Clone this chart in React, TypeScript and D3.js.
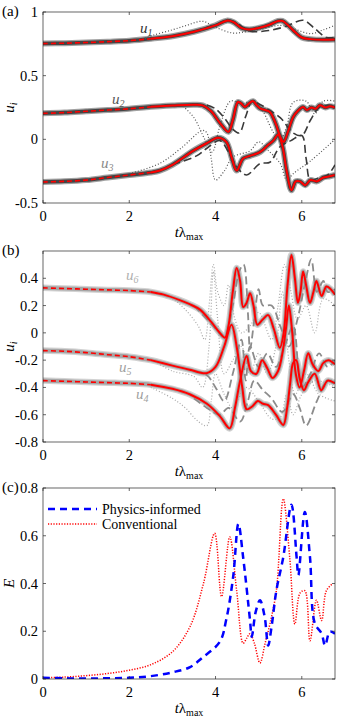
import React from 'react';
import * as d3 from 'd3';

type Pt = [number, number];

// time axis + tick values
const tMax = 6.77;
const xTicks = [0, 2, 4, 6];
const ticksA = [-0.5, 0, 0.5, 1];
const ticksB = [-0.8, -0.6, -0.4, -0.2, 0, 0.2, 0.4];
const ticksC = [0, 0.2, 0.4, 0.6, 0.8];

// panel (a): model (red), conventional (dashed), other (dotted)
const u1Model: Pt[] = [[0,0.752],[0.5,0.755],[1,0.76],[1.5,0.767],[2,0.775],[2.5,0.79],[3,0.81],[3.5,0.845],[4,0.895],[4.26,0.932],[4.42,0.92],[4.6,0.875],[4.78,0.862],[5,0.875],[5.25,0.9],[5.45,0.93],[5.55,0.93],[5.7,0.89],[5.85,0.84],[6,0.8],[6.2,0.787],[6.5,0.782],[6.77,0.785]];
const u2Model: Pt[] = [[0,0.204],[0.5,0.21],[1,0.22],[1.5,0.23],[2,0.24],[2.5,0.255],[3,0.265],[3.5,0.272],[3.7,0.267],[3.9,0.22],[4.1,0.13],[4.3,0.06],[4.4,0.15],[4.52,0.293],[4.6,0.28],[4.68,0.254],[4.77,0.28],[4.87,0.3],[4.95,0.27],[5.03,0.244],[5.15,0.23],[5.26,0.215],[5.4,0.12],[5.5,0.02],[5.58,-0.02],[5.68,0.06],[5.8,0.175],[5.9,0.22],[6.03,0.254],[6.12,0.23],[6.22,0.25],[6.32,0.24],[6.42,0.267],[6.55,0.25],[6.65,0.26],[6.77,0.25]];
const u3Model: Pt[] = [[0,-0.335],[0.5,-0.33],[1,-0.32],[1.5,-0.3],[2,-0.28],[2.5,-0.26],[2.71,-0.245],[3,-0.2],[3.48,-0.09],[3.8,-0.03],[4.06,0.013],[4.25,-0.02],[4.38,-0.15],[4.49,-0.245],[4.64,-0.15],[4.8,-0.13],[5.03,-0.1],[5.2,-0.05],[5.34,-0.01],[5.45,0.035],[5.55,-0.05],[5.65,-0.25],[5.76,-0.4],[5.86,-0.33],[5.96,-0.33],[6.08,-0.36],[6.2,-0.32],[6.35,-0.33],[6.5,-0.3],[6.65,-0.29],[6.77,-0.28]];
const u1Conv: Pt[] = [[3.5,0.845],[4,0.9],[4.3,0.935],[4.5,0.91],[4.8,0.85],[5.26,0.856],[5.64,0.888],[6.03,0.935],[6.3,0.87],[6.57,0.8],[6.77,0.8]];
const u2Conv: Pt[] = [[3.8,0.27],[4,0.24],[4.2,0.17],[4.4,0.08],[4.55,0.05],[4.7,0.18],[4.85,0.3],[5,0.28],[5.2,0.24],[5.5,0.17],[5.8,0.05],[6,0.03],[6.2,0.15],[6.4,0.25],[6.6,0.27],[6.77,0.26]];
const u3Conv: Pt[] = [[3,-0.2],[3.56,-0.13],[3.8,-0.07],[4.1,-0.01],[4.3,-0.1],[4.5,-0.22],[4.72,-0.28],[5.03,-0.19],[5.26,-0.18],[5.49,-0.06],[5.75,-0.01],[6,0.03],[6.1,-0.15],[6.2,-0.32],[6.4,-0.3],[6.6,-0.28],[6.77,-0.2]];
const u1Dot: Pt[] = [[2.3,0.785],[2.55,0.817],[3,0.86],[3.33,0.895],[3.7,0.927],[4,0.88],[4.4,0.835],[4.7,0.845],[5,0.86],[5.5,0.895],[5.8,0.87],[6.2,0.83],[6.5,0.86],[6.77,0.895]];
const u2Dot: Pt[] = [[3.2,0.275],[3.5,0.17],[3.75,0],[3.92,-0.1],[4.1,0.1],[4.35,0.3],[4.6,0.28],[4.9,0.3],[5.1,0.22],[5.35,0.05],[5.5,0],[5.65,0.1],[5.8,0.29],[6.1,0.3],[6.3,0.2],[6.5,0.3],[6.77,0.3]];
const u3Dot: Pt[] = [[2,-0.27],[2.7,-0.19],[3.2,-0.07],[3.7,0.07],[3.8,0.05],[3.9,-0.15],[4,-0.32],[4.2,-0.25],[4.4,-0.14],[4.8,-0.09],[5,-0.02],[5.2,-0.08],[5.5,-0.19],[5.65,-0.32],[5.8,-0.27],[6.2,-0.17],[6.77,0]];

// panel (b)
const u6Model: Pt[] = [[0,0.33],[0.5,0.325],[1,0.32],[1.5,0.315],[2,0.31],[2.5,0.3],[2.8,0.28],[3.17,0.24],[3.4,0.21],[3.64,0.17],[3.9,0.08],[4.1,0],[4.22,-0.035],[4.3,0.05],[4.4,0.3],[4.49,0.475],[4.57,0.38],[4.64,0.19],[4.72,0.22],[4.8,0.29],[4.88,0.2],[4.97,0.06],[5.1,0.1],[5.22,0.13],[5.35,0.03],[5.49,-0.11],[5.58,0],[5.67,0.35],[5.76,0.57],[5.84,0.4],[5.91,0.22],[5.97,0.3],[6.03,0.45],[6.1,0.35],[6.19,0.22],[6.27,0.3],[6.34,0.38],[6.46,0.27],[6.57,0.34],[6.67,0.32],[6.77,0.28]];
const u5Model: Pt[] = [[0,-0.13],[0.5,-0.135],[1,-0.145],[1.5,-0.16],[2,-0.175],[2.5,-0.2],[3,-0.24],[3.4,-0.27],[3.79,-0.296],[4,-0.25],[4.2,-0.1],[4.37,0.06],[4.5,-0.12],[4.62,-0.4],[4.72,-0.56],[4.85,-0.54],[4.98,-0.5],[5.1,-0.52],[5.22,-0.53],[5.4,-0.6],[5.57,-0.675],[5.66,-0.55],[5.73,-0.37],[5.8,-0.22],[5.87,-0.2],[5.95,-0.33],[6.05,-0.42],[6.15,-0.36],[6.3,-0.3],[6.45,-0.42],[6.6,-0.35],[6.77,-0.37]];
const u4Model: Pt[] = [[0,-0.35],[0.5,-0.355],[1,-0.36],[1.5,-0.365],[2,-0.37],[2.5,-0.38],[3,-0.41],[3.4,-0.45],[3.8,-0.52],[4.1,-0.61],[4.33,-0.7],[4.45,-0.55],[4.57,-0.35],[4.72,-0.17],[4.82,-0.28],[4.95,-0.3],[5.08,-0.2],[5.2,-0.26],[5.32,-0.33],[5.45,-0.28],[5.55,-0.15],[5.64,0.05],[5.7,0.2],[5.78,0],[5.86,-0.3],[5.95,-0.4],[6.05,-0.28],[6.15,-0.15],[6.25,-0.23],[6.38,-0.28],[6.5,-0.22],[6.62,-0.2],[6.77,-0.23]];
const u6Conv: Pt[] = [[3.5,0.2],[3.8,0.1],[4,0.03],[4.2,-0.03],[4.4,0.2],[4.55,0.45],[4.65,0.5],[4.75,0.15],[4.8,-0.12],[4.9,0.1],[5,0.32],[5.1,0.2],[5.3,0.2],[5.5,0.05],[5.7,-0.1],[5.9,0.1],[6.1,0.4],[6.22,0.54],[6.35,0.3],[6.5,0.38],[6.6,0.3],[6.77,0.32]];
const u5Conv: Pt[] = [[3.5,-0.28],[3.8,-0.31],[4,-0.4],[4.2,-0.5],[4.4,-0.3],[4.6,-0.05],[4.7,-0.35],[4.8,-0.1],[5,-0.25],[5.2,-0.15],[5.4,-0.25],[5.6,-0.1],[5.8,0.05],[6,-0.4],[6.2,-0.3],[6.4,-0.15],[6.6,-0.25],[6.77,-0.2]];
const u4Conv: Pt[] = [[3.5,-0.48],[3.8,-0.55],[4.1,-0.6],[4.3,-0.55],[4.57,-0.65],[4.75,-0.5],[4.9,-0.35],[5.1,-0.42],[5.3,-0.48],[5.55,-0.58],[5.8,-0.45],[5.95,-0.55],[6.1,-0.68],[6.35,-0.5],[6.6,-0.35],[6.77,-0.38]];
const u6Dot: Pt[] = [[2.6,0.29],[3,0.25],[3.3,0.17],[3.6,0.05],[3.75,-0.05],[3.85,0.2],[3.95,0.5],[4.05,0.3],[4.2,0.2],[4.3,0.35],[4.45,0.1],[4.6,0],[4.8,0.05],[5,0.15],[5.3,-0.05],[5.45,0.2],[5.6,0.5],[5.75,0.3],[5.9,0.1],[6.1,0.2],[6.3,0],[6.5,0.25],[6.77,0.2]];
const u5Dot: Pt[] = [[2.6,-0.21],[3,-0.28],[3.5,-0.32],[3.7,-0.4],[3.85,-0.1],[3.95,0.45],[4.05,0.1],[4.2,-0.3],[4.4,-0.2],[4.6,-0.1],[4.8,-0.3],[5,-0.15],[5.2,-0.3],[5.4,-0.1],[5.55,0.3],[5.7,-0.2],[5.85,-0.45],[6.1,-0.3],[6.4,-0.45],[6.77,-0.5]];
const u4Dot: Pt[] = [[2.5,-0.4],[3,-0.48],[3.3,-0.55],[3.6,-0.65],[3.8,-0.68],[3.9,-0.5],[4,-0.3],[4.2,-0.45],[4.4,-0.55],[4.7,-0.4],[5,-0.5],[5.3,-0.63],[5.5,-0.62],[5.65,-0.45],[5.8,-0.6],[6,-0.45],[6.3,-0.35],[6.77,-0.4]];

// panel (c): error E
const errPhysics: Pt[] = [[0,0.005],[0.5,0.003],[1,0.002],[1.5,0.003],[2,0.005],[2.5,0.012],[3,0.028],[3.41,0.05],[3.7,0.09],[4.1,0.156],[4.25,0.25],[4.41,0.43],[4.53,0.65],[4.64,0.51],[4.8,0.245],[4.84,0.177],[4.93,0.28],[5.03,0.33],[5.14,0.26],[5.22,0.14],[5.3,0.22],[5.41,0.37],[5.57,0.51],[5.76,0.73],[5.88,0.51],[5.92,0.435],[6.07,0.7],[6.19,0.51],[6.3,0.234],[6.46,0.19],[6.54,0.14],[6.65,0.198],[6.77,0.19]];
const errConv: Pt[] = [[0,0.005],[0.5,0.008],[1,0.014],[1.5,0.023],[2,0.037],[2.5,0.06],[3,0.114],[3.41,0.22],[3.72,0.4],[3.98,0.61],[4.14,0.345],[4.33,0.595],[4.49,0.37],[4.64,0.15],[4.72,0.17],[4.8,0.19],[4.9,0.15],[5.03,0.067],[5.15,0.15],[5.26,0.23],[5.41,0.37],[5.57,0.755],[5.72,0.51],[5.84,0.23],[5.96,0.36],[6.07,0.37],[6.19,0.16],[6.34,0.33],[6.46,0.245],[6.57,0.37],[6.72,0.4]];
const legendLabels = ['Physics-informed', 'Conventional'];

const FONT = "'Liberation Serif', 'Times New Roman', serif";
const LEFT = 43;
const RIGHT = 335;
const H = 191;
const x = d3.scaleLinear().domain([0, tMax]).range([LEFT, RIGHT]);
const split = 2.5;
const txt = { fontFamily: FONT };

type Line = { data: Pt[]; color: string; width: number; dash?: string; opacity?: number };

function Panel({ id, top, domain, ticks, label, ylabel, lines, children }: any) {
  const y = d3.scaleLinear().domain(domain).range([top + H, top]);
  const gen = d3.line<Pt>().x((d) => x(d[0])).y((d) => y(d[1])).curve(d3.curveCatmullRom.alpha(0.5));
  return (
    <g>
      <defs>
        <clipPath id={id}>
          <rect x={LEFT} y={top} width={RIGHT - LEFT} height={H} />
        </clipPath>
      </defs>
      <g clipPath={`url(#${id})`}>
        {(lines as Line[]).map((l, i) => (
          <path key={i} d={gen(l.data) || ''} fill="none" stroke={l.color} strokeWidth={l.width}
            strokeDasharray={l.dash} strokeOpacity={l.opacity ?? 1} strokeLinejoin="round" />
        ))}
      </g>
      <rect x={LEFT} y={top} width={RIGHT - LEFT} height={H} fill="none" stroke="#262626" strokeWidth={0.7} />
      {xTicks.map((t) => (
        <g key={t}>
          <line x1={x(t)} x2={x(t)} y1={top + H} y2={top + H - 3} stroke="#262626" strokeWidth={0.7} />
          <line x1={x(t)} x2={x(t)} y1={top} y2={top + 3} stroke="#262626" strokeWidth={0.7} />
          <text x={x(t)} y={top + H + 18} textAnchor="middle" fontSize={14.5} style={txt}>{t}</text>
        </g>
      ))}
      {ticks.map((v: number) => (
        <g key={v}>
          <line x1={LEFT} x2={LEFT + 3} y1={y(v)} y2={y(v)} stroke="#262626" strokeWidth={0.7} />
          <line x1={RIGHT} x2={RIGHT - 3} y1={y(v)} y2={y(v)} stroke="#262626" strokeWidth={0.7} />
          <text x={LEFT - 5} y={y(v) + 5} textAnchor="end" fontSize={14.5} style={txt}>{String(v)}</text>
        </g>
      ))}
      <text x={189} y={top + H + 34} textAnchor="middle" fontSize={15} style={txt}>
        <tspan fontStyle="italic">t</tspan>λ<tspan dy={3} fontSize={10}>max</tspan>
      </text>
      <text x={2} y={top + 4} fontSize={15} style={txt}>{label}</text>
      <g transform={`translate(14,${top + H / 2}) rotate(-90)`}>{ylabel}</g>
      {children}
    </g>
  );
}

// noisy observation band drawn as a wide soft stroke plus a core stroke
function bandLines(data: Pt[], band: string, bandW: number): Line[] {
  return [
    { data, color: band, width: bandW + 2.5, opacity: 0.5 },
    { data, color: band, width: bandW },
  ];
}

function redLines(data: Pt[]): Line[] {
  return [
    { data: data.filter((d) => d[0] <= split), color: '#ff0000', width: 1.6, dash: '5,3' },
    { data: data.filter((d) => d[0] >= split), color: '#ff0000', width: 2 },
  ];
}

function Lbl({ px, py, sub, color }: { px: number; py: number; sub: string; color: string }) {
  return (
    <text x={px} y={py} fontSize={15} style={txt} fontStyle="italic" fill={color}>
      u<tspan dy={3} fontSize={10}>{sub}</tspan>
    </text>
  );
}

export default function App() {
  const topA = 12, topB = 251, topC = 488;
  const dkDash = '#3a3a3a';
  const dkDot = '#555';
  const ltDash = '#8c8c8c';
  const ltDot = '#a8a8a8';
  const linesA: Line[] = [
    ...bandLines(u1Model, '#444', 3.5),
    ...bandLines(u2Model, '#444', 3.5),
    ...bandLines(u3Model, '#444', 3.5),
    ...[u1Dot, u2Dot, u3Dot].map((d) => ({ data: d, color: dkDot, width: 1.2, dash: '1,2' })),
    ...[u1Conv, u2Conv, u3Conv].map((d) => ({ data: d, color: dkDash, width: 1.6, dash: '8,4' })),
    ...redLines(u1Model),
    ...redLines(u2Model),
    ...redLines(u3Model),
  ];
  const linesB: Line[] = [
    ...bandLines(u6Model, '#a6a6a6', 4),
    ...bandLines(u5Model, '#a6a6a6', 4),
    ...bandLines(u4Model, '#a6a6a6', 4),
    ...[u6Dot, u5Dot, u4Dot].map((d) => ({ data: d, color: ltDot, width: 1.2, dash: '1,2' })),
    ...[u6Conv, u5Conv, u4Conv].map((d) => ({ data: d, color: ltDash, width: 1.8, dash: '8,4' })),
    ...redLines(u6Model),
    ...redLines(u5Model),
    ...redLines(u4Model),
  ];
  const linesC: Line[] = [
    { data: errConv, color: '#ff0000', width: 1.5, dash: '1.2,1.5' },
    { data: errPhysics, color: '#0000ff', width: 2.5, dash: '7,5' },
  ];
  const uiLabel = (
    <text textAnchor="middle" fontSize={15} style={txt} fontStyle="italic">
      u<tspan dy={3} fontSize={10}>i</tspan>
    </text>
  );
  return (
    <svg width={339} height={720} style={{ position: 'absolute', left: 0, top: 0, background: '#fff' }}>
      <Panel id="ca" top={topA} domain={[-0.5, 1]} ticks={ticksA} label="(a)" ylabel={uiLabel} lines={linesA}>
        <Lbl px={140} py={33} sub="1" color="#333" />
        <Lbl px={112} py={104} sub="2" color="#555" />
        <Lbl px={101} py={168} sub="3" color="#888" />
      </Panel>
      <Panel id="cb" top={topB} domain={[-0.8, 0.6]} ticks={ticksB} label="(b)" ylabel={uiLabel} lines={linesB}>
        <Lbl px={126} py={280} sub="6" color="#b0b0b0" />
        <Lbl px={119} py={372} sub="5" color="#a0a0a0" />
        <Lbl px={136} py={399} sub="4" color="#a0a0a0" />
      </Panel>
      <Panel id="cc" top={topC} domain={[0, 0.8]} ticks={ticksC} label="(c)"
        ylabel={<text textAnchor="middle" fontSize={15} style={txt} fontStyle="italic">E</text>} lines={linesC}>
        {legendLabels.map((s, i) => (
          <g key={s}>
            <line x1={48} x2={97} y1={509 + i * 15} y2={509 + i * 15} stroke={i === 0 ? '#0000ff' : '#ff0000'}
              strokeWidth={i === 0 ? 2.5 : 1.5} strokeDasharray={i === 0 ? '7,5' : '1.2,1.5'} />
            <text x={102} y={514 + i * 15} fontSize={14} style={txt}>{s}</text>
          </g>
        ))}
      </Panel>
    </svg>
  );
}
